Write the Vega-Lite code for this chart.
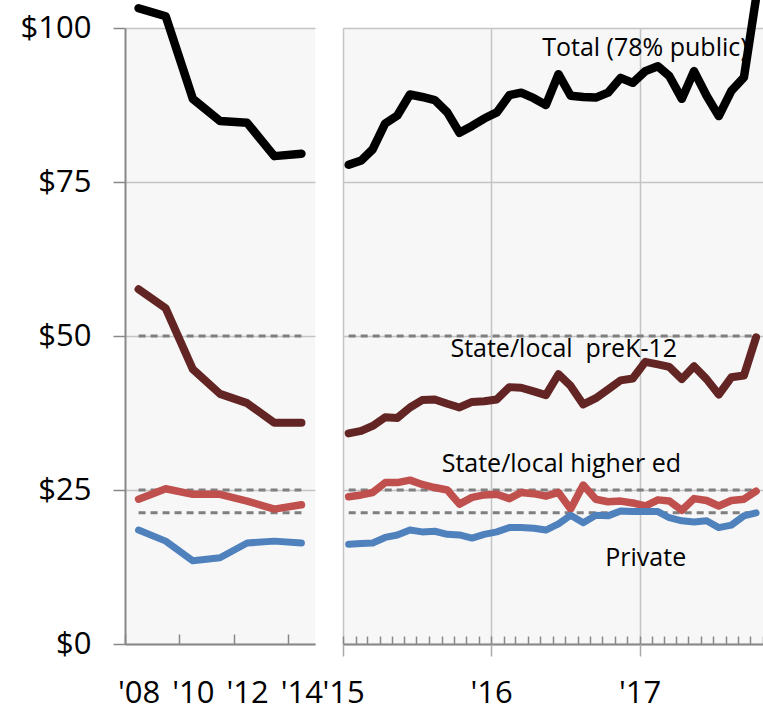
{
  "$schema": "https://vega.github.io/schema/vega-lite/v6.json",
  "padding": {"left": 0, "top": -7, "right": 0, "bottom": 6},
  "bounds": "flush",
  "spacing": 28,
  "config": {
    "font": "Open Sans",
    "view": {"stroke": null, "fill": "#f7f7f7"}
  },
  "datasets": {
    "annual": [
      {"year": 2008, "series": "Total", "value": 103.2},
      {"year": 2009, "series": "Total", "value": 101.9},
      {"year": 2010, "series": "Total", "value": 88.5},
      {"year": 2011, "series": "Total", "value": 84.9},
      {"year": 2012, "series": "Total", "value": 84.6},
      {"year": 2013, "series": "Total", "value": 79.2},
      {"year": 2014, "series": "Total", "value": 79.6},
      {"year": 2008, "series": "State/local preK-12", "value": 57.6},
      {"year": 2009, "series": "State/local preK-12", "value": 54.5},
      {"year": 2010, "series": "State/local preK-12", "value": 44.6},
      {"year": 2011, "series": "State/local preK-12", "value": 40.6},
      {"year": 2012, "series": "State/local preK-12", "value": 39.1},
      {"year": 2013, "series": "State/local preK-12", "value": 35.9},
      {"year": 2014, "series": "State/local preK-12", "value": 35.9},
      {"year": 2008, "series": "State/local higher ed", "value": 23.5},
      {"year": 2009, "series": "State/local higher ed", "value": 25.2},
      {"year": 2010, "series": "State/local higher ed", "value": 24.3},
      {"year": 2011, "series": "State/local higher ed", "value": 24.3},
      {"year": 2012, "series": "State/local higher ed", "value": 23.2},
      {"year": 2013, "series": "State/local higher ed", "value": 21.9},
      {"year": 2014, "series": "State/local higher ed", "value": 22.6},
      {"year": 2008, "series": "Private", "value": 18.5},
      {"year": 2009, "series": "Private", "value": 16.7},
      {"year": 2010, "series": "Private", "value": 13.5},
      {"year": 2011, "series": "Private", "value": 14.0},
      {"year": 2012, "series": "Private", "value": 16.4},
      {"year": 2013, "series": "Private", "value": 16.7},
      {"year": 2014, "series": "Private", "value": 16.4}
    ],
    "annualRefs": [
      {"year": 2008, "level": 50}, {"year": 2014, "level": 50},
      {"year": 2008, "level": 25}, {"year": 2014, "level": 25},
      {"year": 2008, "level": 21.3}, {"year": 2014, "level": 21.3}
    ],
    "monthlyRefs": [
      {"date": "2015-01-15", "level": 50}, {"date": "2017-10-15", "level": 50},
      {"date": "2015-01-15", "level": 25}, {"date": "2017-10-15", "level": 25},
      {"date": "2015-01-15", "level": 21.3}, {"date": "2017-10-15", "level": 21.3}
    ],
    "labels": [
      {"date": "2017-01-14", "value": 95.5, "label": "Total (78% public)"},
      {"date": "2016-06-28", "value": 46.6, "label": "State/local\u00a0\u00a0preK-12"},
      {"date": "2016-06-22", "value": 28.0, "label": "State/local higher ed"},
      {"date": "2017-01-16", "value": 12.7, "label": "Private"}
    ],
    "monthly": [
      {"date": "2015-01-15", "series": "Total", "value": 77.8},
      {"date": "2015-02-15", "series": "Total", "value": 78.5},
      {"date": "2015-03-15", "series": "Total", "value": 80.3},
      {"date": "2015-04-15", "series": "Total", "value": 84.5},
      {"date": "2015-05-15", "series": "Total", "value": 85.8},
      {"date": "2015-06-15", "series": "Total", "value": 89.2},
      {"date": "2015-07-15", "series": "Total", "value": 88.8},
      {"date": "2015-08-15", "series": "Total", "value": 88.3},
      {"date": "2015-09-15", "series": "Total", "value": 86.3},
      {"date": "2015-10-15", "series": "Total", "value": 83.0},
      {"date": "2015-11-15", "series": "Total", "value": 84.1},
      {"date": "2015-12-15", "series": "Total", "value": 85.3},
      {"date": "2016-01-15", "series": "Total", "value": 86.3},
      {"date": "2016-02-15", "series": "Total", "value": 89.1},
      {"date": "2016-03-15", "series": "Total", "value": 89.5},
      {"date": "2016-04-15", "series": "Total", "value": 88.6},
      {"date": "2016-05-15", "series": "Total", "value": 87.5},
      {"date": "2016-06-15", "series": "Total", "value": 92.5},
      {"date": "2016-07-15", "series": "Total", "value": 89.0},
      {"date": "2016-08-15", "series": "Total", "value": 88.8},
      {"date": "2016-09-15", "series": "Total", "value": 88.7},
      {"date": "2016-10-15", "series": "Total", "value": 89.5},
      {"date": "2016-11-15", "series": "Total", "value": 91.9},
      {"date": "2016-12-15", "series": "Total", "value": 91.1},
      {"date": "2017-01-15", "series": "Total", "value": 93.0},
      {"date": "2017-02-15", "series": "Total", "value": 93.8},
      {"date": "2017-03-15", "series": "Total", "value": 92.2},
      {"date": "2017-04-15", "series": "Total", "value": 88.5},
      {"date": "2017-05-15", "series": "Total", "value": 93.0},
      {"date": "2017-06-15", "series": "Total", "value": 89.0},
      {"date": "2017-07-15", "series": "Total", "value": 85.7},
      {"date": "2017-08-15", "series": "Total", "value": 89.8},
      {"date": "2017-09-15", "series": "Total", "value": 92.0},
      {"date": "2017-10-15", "series": "Total", "value": 104.9},
      {"date": "2015-01-15", "series": "State/local preK-12", "value": 34.2},
      {"date": "2015-02-15", "series": "State/local preK-12", "value": 34.6},
      {"date": "2015-03-15", "series": "State/local preK-12", "value": 35.4},
      {"date": "2015-04-15", "series": "State/local preK-12", "value": 36.8},
      {"date": "2015-05-15", "series": "State/local preK-12", "value": 36.7},
      {"date": "2015-06-15", "series": "State/local preK-12", "value": 38.4},
      {"date": "2015-07-15", "series": "State/local preK-12", "value": 39.6},
      {"date": "2015-08-15", "series": "State/local preK-12", "value": 39.7},
      {"date": "2015-09-15", "series": "State/local preK-12", "value": 39.0},
      {"date": "2015-10-15", "series": "State/local preK-12", "value": 38.4},
      {"date": "2015-11-15", "series": "State/local preK-12", "value": 39.3},
      {"date": "2015-12-15", "series": "State/local preK-12", "value": 39.4},
      {"date": "2016-01-15", "series": "State/local preK-12", "value": 39.7},
      {"date": "2016-02-15", "series": "State/local preK-12", "value": 41.7},
      {"date": "2016-03-15", "series": "State/local preK-12", "value": 41.6},
      {"date": "2016-04-15", "series": "State/local preK-12", "value": 41.0},
      {"date": "2016-05-15", "series": "State/local preK-12", "value": 40.4},
      {"date": "2016-06-15", "series": "State/local preK-12", "value": 43.8},
      {"date": "2016-07-15", "series": "State/local preK-12", "value": 41.9},
      {"date": "2016-08-15", "series": "State/local preK-12", "value": 38.9},
      {"date": "2016-09-15", "series": "State/local preK-12", "value": 39.9},
      {"date": "2016-10-15", "series": "State/local preK-12", "value": 41.3},
      {"date": "2016-11-15", "series": "State/local preK-12", "value": 42.8},
      {"date": "2016-12-15", "series": "State/local preK-12", "value": 43.1},
      {"date": "2017-01-15", "series": "State/local preK-12", "value": 45.8},
      {"date": "2017-02-15", "series": "State/local preK-12", "value": 45.4},
      {"date": "2017-03-15", "series": "State/local preK-12", "value": 45.0},
      {"date": "2017-04-15", "series": "State/local preK-12", "value": 43.0},
      {"date": "2017-05-15", "series": "State/local preK-12", "value": 45.1},
      {"date": "2017-06-15", "series": "State/local preK-12", "value": 43.0},
      {"date": "2017-07-15", "series": "State/local preK-12", "value": 40.5},
      {"date": "2017-08-15", "series": "State/local preK-12", "value": 43.3},
      {"date": "2017-09-15", "series": "State/local preK-12", "value": 43.6},
      {"date": "2017-10-15", "series": "State/local preK-12", "value": 49.8},
      {"date": "2015-01-15", "series": "State/local higher ed", "value": 23.9},
      {"date": "2015-02-15", "series": "State/local higher ed", "value": 24.2},
      {"date": "2015-03-15", "series": "State/local higher ed", "value": 24.6},
      {"date": "2015-04-15", "series": "State/local higher ed", "value": 26.2},
      {"date": "2015-05-15", "series": "State/local higher ed", "value": 26.2},
      {"date": "2015-06-15", "series": "State/local higher ed", "value": 26.6},
      {"date": "2015-07-15", "series": "State/local higher ed", "value": 25.9},
      {"date": "2015-08-15", "series": "State/local higher ed", "value": 25.4},
      {"date": "2015-09-15", "series": "State/local higher ed", "value": 25.0},
      {"date": "2015-10-15", "series": "State/local higher ed", "value": 22.7},
      {"date": "2015-11-15", "series": "State/local higher ed", "value": 23.8},
      {"date": "2015-12-15", "series": "State/local higher ed", "value": 24.2},
      {"date": "2016-01-15", "series": "State/local higher ed", "value": 24.3},
      {"date": "2016-02-15", "series": "State/local higher ed", "value": 23.6},
      {"date": "2016-03-15", "series": "State/local higher ed", "value": 24.6},
      {"date": "2016-04-15", "series": "State/local higher ed", "value": 24.4},
      {"date": "2016-05-15", "series": "State/local higher ed", "value": 24.0},
      {"date": "2016-06-15", "series": "State/local higher ed", "value": 24.6},
      {"date": "2016-07-15", "series": "State/local higher ed", "value": 21.9},
      {"date": "2016-08-15", "series": "State/local higher ed", "value": 25.8},
      {"date": "2016-09-15", "series": "State/local higher ed", "value": 23.5},
      {"date": "2016-10-15", "series": "State/local higher ed", "value": 23.1},
      {"date": "2016-11-15", "series": "State/local higher ed", "value": 23.2},
      {"date": "2016-12-15", "series": "State/local higher ed", "value": 22.9},
      {"date": "2017-01-15", "series": "State/local higher ed", "value": 22.4},
      {"date": "2017-02-15", "series": "State/local higher ed", "value": 23.4},
      {"date": "2017-03-15", "series": "State/local higher ed", "value": 23.2},
      {"date": "2017-04-15", "series": "State/local higher ed", "value": 21.7},
      {"date": "2017-05-15", "series": "State/local higher ed", "value": 23.6},
      {"date": "2017-06-15", "series": "State/local higher ed", "value": 23.3},
      {"date": "2017-07-15", "series": "State/local higher ed", "value": 22.4},
      {"date": "2017-08-15", "series": "State/local higher ed", "value": 23.3},
      {"date": "2017-09-15", "series": "State/local higher ed", "value": 23.5},
      {"date": "2017-10-15", "series": "State/local higher ed", "value": 24.8},
      {"date": "2015-01-15", "series": "Private", "value": 16.2},
      {"date": "2015-02-15", "series": "Private", "value": 16.3},
      {"date": "2015-03-15", "series": "Private", "value": 16.4},
      {"date": "2015-04-15", "series": "Private", "value": 17.3},
      {"date": "2015-05-15", "series": "Private", "value": 17.7},
      {"date": "2015-06-15", "series": "Private", "value": 18.5},
      {"date": "2015-07-15", "series": "Private", "value": 18.2},
      {"date": "2015-08-15", "series": "Private", "value": 18.3},
      {"date": "2015-09-15", "series": "Private", "value": 17.8},
      {"date": "2015-10-15", "series": "Private", "value": 17.7},
      {"date": "2015-11-15", "series": "Private", "value": 17.2},
      {"date": "2015-12-15", "series": "Private", "value": 17.8},
      {"date": "2016-01-15", "series": "Private", "value": 18.2},
      {"date": "2016-02-15", "series": "Private", "value": 18.9},
      {"date": "2016-03-15", "series": "Private", "value": 18.9},
      {"date": "2016-04-15", "series": "Private", "value": 18.8},
      {"date": "2016-05-15", "series": "Private", "value": 18.5},
      {"date": "2016-06-15", "series": "Private", "value": 19.5},
      {"date": "2016-07-15", "series": "Private", "value": 20.9},
      {"date": "2016-08-15", "series": "Private", "value": 19.7},
      {"date": "2016-09-15", "series": "Private", "value": 20.9},
      {"date": "2016-10-15", "series": "Private", "value": 20.8},
      {"date": "2016-11-15", "series": "Private", "value": 21.6},
      {"date": "2016-12-15", "series": "Private", "value": 21.5},
      {"date": "2017-01-15", "series": "Private", "value": 21.5},
      {"date": "2017-02-15", "series": "Private", "value": 21.5},
      {"date": "2017-03-15", "series": "Private", "value": 20.5},
      {"date": "2017-04-15", "series": "Private", "value": 20.0},
      {"date": "2017-05-15", "series": "Private", "value": 19.8},
      {"date": "2017-06-15", "series": "Private", "value": 20.0},
      {"date": "2017-07-15", "series": "Private", "value": 18.9},
      {"date": "2017-08-15", "series": "Private", "value": 19.3},
      {"date": "2017-09-15", "series": "Private", "value": 20.8},
      {"date": "2017-10-15", "series": "Private", "value": 21.3}
    ]
  },
  "hconcat": [
    {
      "width": 190,
      "height": 616,
      "layer": [
        {
          "data": {"name": "annualRefs"},
          "mark": {"type": "line", "color": "#7f7f7f", "strokeWidth": 3, "strokeDash": [7, 5]},
          "encoding": {
            "x": {"field": "year", "type": "quantitative"},
            "y": {"field": "level", "type": "quantitative"},
            "detail": {"field": "level", "type": "nominal"}
          }
        },
        {
          "data": {"name": "annual"},
          "mark": {"type": "line", "strokeCap": "round", "strokeJoin": "round"},
          "encoding": {
            "x": {
              "field": "year", "type": "quantitative",
              "scale": {"domain": [2007.5, 2014.5], "nice": false, "zero": false},
              "axis": {
                "title": null, "orient": "bottom",
                "values": [2007.5, 2008.5, 2009.5, 2010.5, 2011.5, 2012.5, 2013.5, 2014.5],
                "labelExpr": "indexof([2007.5, 2009.5, 2011.5, 2013.5], datum.value) >= 0 ? \"'\" + substring(toString(datum.value + 0.5), 2, 4) : ''",
                "labelOffset": 13.57,
                "labelFlush": false,
                "labelOverlap": false,
                "labelFontSize": 31,
                "labelColor": "#000000",
                "labelPadding": 44,
                "tickSize": -10,
                "tickColor": "#888888",
                "tickWidth": 1.5,
                "domainColor": "#888888",
                "domainWidth": 2,
                "grid": false
              }
            },
            "y": {
              "field": "value", "type": "quantitative",
              "scale": {"domain": [0, 100], "nice": false},
              "axis": {
                "title": null,
                "values": [0, 25, 50, 75, 100],
                "labelExpr": "'$' + datum.value",
                "labelFontSize": 31,
                "labelColor": "#000000",
                "labelPadding": 22,
                "tickSize": 12,
                "tickColor": "#888888",
                "tickWidth": 1.5,
                "domainColor": "#888888",
                "domainWidth": 2,
                "grid": true,
                "gridColor": "#c4c4c4",
                "gridWidth": 1.5,
                "minExtent": 125,
                "maxExtent": 125
              }
            },
            "color": {
              "field": "series", "type": "nominal", "legend": null,
              "scale": {"domain": ["Total", "State/local preK-12", "State/local higher ed", "Private"], "range": ["#000000", "#632523", "#C0504D", "#4F81BD"]}
            },
            "strokeWidth": {
              "field": "series", "type": "nominal", "legend": null,
              "scale": {"domain": ["Total", "State/local preK-12", "State/local higher ed", "Private"], "range": [8.5, 7, 7, 7]}
            },
            "order": {"field": "year", "type": "quantitative"}
          }
        }
      ]
    },
    {
      "width": 420,
      "height": 616,
      "resolve": {"axis": {"x": "independent"}},
      "layer": [
        {
          "data": {"name": "monthlyRefs"},
          "mark": {"type": "line", "color": "#7f7f7f", "strokeWidth": 3, "strokeDash": [7, 5]},
          "encoding": {
            "x": {"field": "date", "type": "temporal", "axis": null},
            "y": {"field": "level", "type": "quantitative"},
            "detail": {"field": "level", "type": "nominal"}
          }
        },
        {
          "data": {"name": "monthly"},
          "mark": {"type": "line", "strokeCap": "round", "strokeJoin": "round"},
          "encoding": {
            "x": {
              "field": "date", "type": "temporal",
              "scale": {"domain": [{"year": 2015, "month": 1, "date": 1}, {"year": 2017, "month": 11, "date": 1}], "nice": false},
              "axis": {
                "title": null, "orient": "bottom",
                "tickCount": {"interval": "month", "step": 1},
                "labels": false,
                "tickSize": -8,
                "tickColor": "#888888",
                "tickWidth": 1.5,
                "domainColor": "#888888",
                "domainWidth": 2,
                "grid": false
              }
            },
            "y": {
              "field": "value", "type": "quantitative",
              "scale": {"domain": [0, 100], "nice": false},
              "axis": {
                "title": null,
                "values": [0, 25, 50, 75, 100],
                "labels": false, "ticks": false, "domain": false,
                "grid": true, "gridColor": "#c4c4c4", "gridWidth": 1.5,
                "minExtent": 0, "maxExtent": 0
              }
            },
            "color": {
              "field": "series", "type": "nominal", "legend": null,
              "scale": {"domain": ["Total", "State/local preK-12", "State/local higher ed", "Private"], "range": ["#000000", "#632523", "#C0504D", "#4F81BD"]}
            },
            "strokeWidth": {
              "field": "series", "type": "nominal", "legend": null,
              "scale": {"domain": ["Total", "State/local preK-12", "State/local higher ed", "Private"], "range": [8.5, 7, 7, 7]}
            },
            "order": {"field": "date", "type": "temporal"}
          }
        },
        {
          "data": {"name": "labels"},
          "mark": {"type": "text", "fontSize": 25, "color": "#000000", "align": "center", "baseline": "alphabetic"},
          "encoding": {
            "x": {
              "field": "date", "type": "temporal",
              "axis": {
                "title": null, "orient": "bottom",
                "tickCount": {"interval": "year", "step": 1},
                "labelExpr": "\"'\" + timeFormat(datum.value, '%y')",
                "labelFlush": false,
                "labelOverlap": false,
                "labelFontSize": 31,
                "labelColor": "#000000",
                "labelPadding": 22,
                "tickSize": 12,
                "tickColor": "#aaaaaa",
                "tickWidth": 1.5,
                "domain": false,
                "grid": true,
                "gridColor": "#c4c4c4",
                "gridWidth": 1.5
              }
            },
            "y": {"field": "value", "type": "quantitative"},
            "text": {"field": "label", "type": "nominal"}
          }
        }
      ]
    }
  ]
}
